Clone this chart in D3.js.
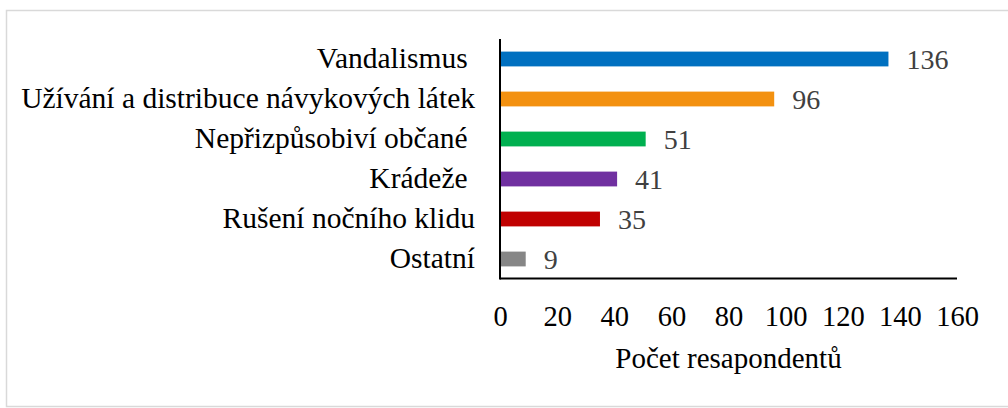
<!DOCTYPE html>
<html>
<head>
<meta charset="utf-8">
<script src="https://cdn.jsdelivr.net/npm/d3@7"></script>
<style>
  body { margin: 0; background: #fff; }
  #vis { width: 1008px; height: 408px; }
  text { font-family: 'Liberation Serif', 'Times New Roman', serif; white-space: pre; }
</style>
</head>
<body>
<div id="vis"></div>
<script>
var categories = ['Vandalismus ', 'Užívání a distribuce návykových látek', 'Nepřizpůsobiví občané ', 'Krádeže ', 'Rušení nočního klidu', 'Ostatní'];
var values = [136, 96, 51, 41, 35, 9];
var colors = ['#0070C0', '#F39110', '#00B050', '#7030A0', '#C00000', '#868686'];
var tickValues = [0, 20, 40, 60, 80, 100, 120, 140, 160];
var axisTitle = 'Počet resapondentů';

var width = 1008, height = 408;
var serif = "'Liberation Serif', 'Times New Roman', serif";

var svg = d3.select('#vis')
    .append('svg')
    .attr('width', width)
    .attr('height', height);

// outer frame
svg.append('rect')
    .attr('x', 6.5).attr('y', 10.5)
    .attr('width', 1010).attr('height', 396)
    .style('fill', 'white')
    .style('stroke', '#d9d9d9')
    .style('stroke-width', 1.5);

var x_scale = d3.scaleLinear()
    .domain([0, 160])
    .range([500, 957]);

var y_scale = d3.scaleBand()
    .domain(categories)
    .range([39, 279])
    .paddingInner(0.63)
    .paddingOuter(0.315);

var data = categories.map(function(c, i) { return [c, values[i], colors[i]]; });

svg.selectAll('.bar')
    .data(data)
    .enter()
    .append('rect')
    .attr('class', 'bar')
    .attr('x', x_scale(0))
    .attr('y', function(d) { return y_scale(d[0]); })
    .attr('width', function(d) { return x_scale(d[1]) - x_scale(0); })
    .attr('height', y_scale.bandwidth())
    .style('fill', function(d) { return d[2]; });

// value labels
svg.selectAll('text.label')
    .data(data)
    .enter()
    .append('text')
    .attr('class', 'label')
    .attr('x', function(d) { return x_scale(d[1]) + 18; })
    .attr('y', function(d) { return y_scale(d[0]) + y_scale.bandwidth() / 2; })
    .attr('dy', '0.34em')
    .style('font-family', serif)
    .style('font-size', '28px')
    .style('fill', '#404040')
    .text(function(d) { return d[1]; });

// y axis (category labels)
var y_axis = d3.axisLeft(y_scale).tickSize(0).tickPadding(25);
var gy = svg.append('g')
    .attr('class', 'y axis')
    .attr('transform', 'translate(500,0)')
    .call(y_axis);
gy.select('.domain').remove();
gy.selectAll('text')
    .style('font-family', serif)
    .style('font-size', '29.5px')
    .style('fill', '#000')
    .attr('dy', '0.31em');

// x axis
var x_axis = d3.axisBottom(x_scale).tickValues(tickValues).tickSize(0).tickPadding(27);
var gx = svg.append('g')
    .attr('class', 'x axis')
    .attr('transform', 'translate(0,278.5)')
    .call(x_axis);
gx.select('.domain').remove();
gx.selectAll('text')
    .style('font-family', serif)
    .style('font-size', '28.5px')
    .style('fill', '#000');

// axis lines
svg.append('line')
    .attr('x1', x_scale(0)).attr('x2', x_scale(0))
    .attr('y1', 39).attr('y2', 279.5)
    .style('stroke', '#000').style('stroke-width', 2);
svg.append('line')
    .attr('x1', x_scale(0)).attr('x2', x_scale(160))
    .attr('y1', 278.5).attr('y2', 278.5)
    .style('stroke', '#000').style('stroke-width', 2);

svg.append('text')
    .text(axisTitle)
    .attr('x', (x_scale(0) + x_scale(160)) / 2)
    .attr('y', 368)
    .attr('text-anchor', 'middle')
    .style('font-family', serif)
    .style('font-size', '29px')
    .style('fill', '#000');
</script>
</body>
</html>
